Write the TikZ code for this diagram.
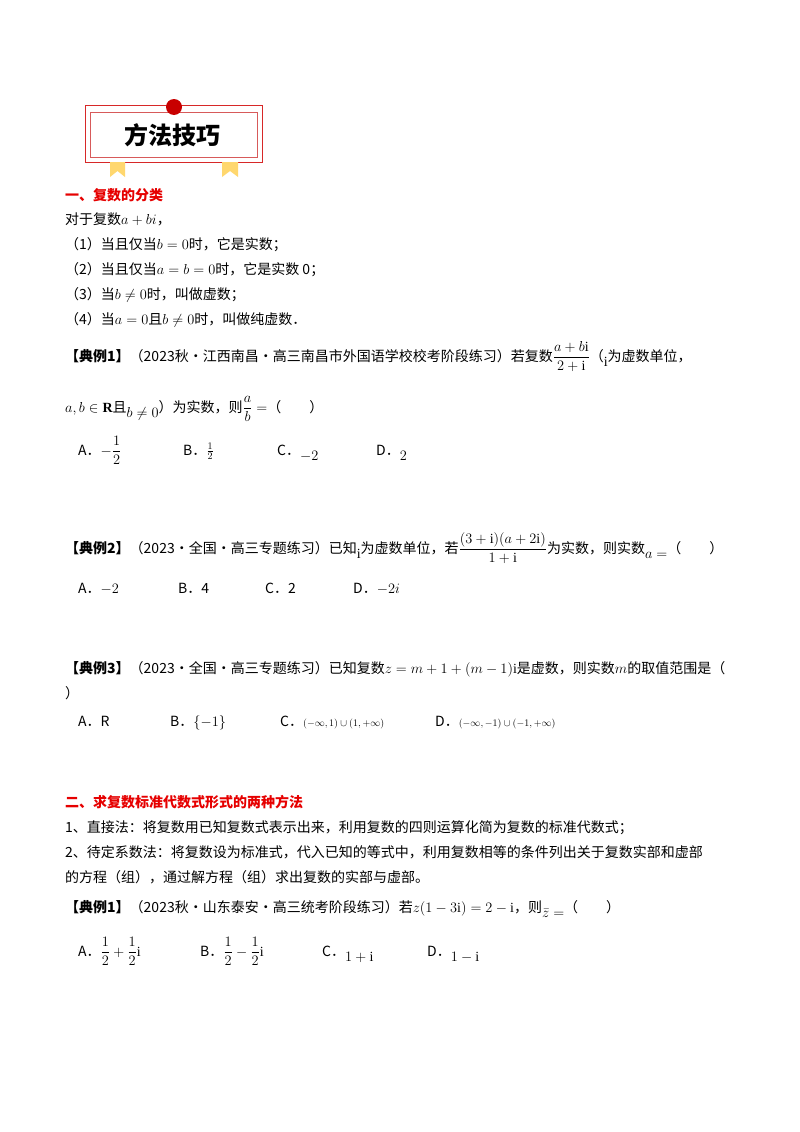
\documentclass[tikz,border=0pt]{standalone}
\usepackage{amsmath}
\usepackage{fontspec}
\setmainfont{Liberation Serif}
\newfontfamily\cjk{Noto Sans CJK SC}
\newcommand\cjkb{\cjk\bfseries}
\newcommand\lowr[1]{\raisebox{-5pt}{$#1$}}
\begin{document}
\begin{tikzpicture}[x=1pt,y=-1pt,
  t/.style={anchor=base west,inner sep=0,font=\fontsize{14}{16}\selectfont\cjk},
  hd/.style={t,font=\fontsize{14}{16}\selectfont\cjkb,text={rgb,255:red,230;green,0;blue,0}},
  opt/.style={t}]
\useasboundingbox[fill=white] (0,0) rectangle (800,1132);
% header
\draw[draw={rgb,255:red,215;green,40;blue,40},line width=1] (85,105) rectangle (262,162);
\draw[draw={rgb,255:red,215;green,90;blue,90},line width=0.8] (90,112) rectangle (257,157);
\fill[fill={rgb,255:red,255;green,215;blue,110}] (110,162)--(125,162)--(125,177)--(117.5,171)--(110,177)--cycle;
\fill[fill={rgb,255:red,255;green,215;blue,110}] (222,162)--(238,162)--(238,177)--(230,171)--(222,177)--cycle;
\fill[fill={rgb,255:red,200;green,0;blue,0}] (174,107) circle (8);
\node[font=\fontsize{24}{26}\selectfont\cjkb] (title) at (172,135) {方法技巧};
% section 1
\node[hd] (h1) at (65,200) {一、复数的分类};
\node[t] (l1) at (65,224) {对于复数$a+bi$，};
\node[t] (l2) at (65,249) {（1）当且仅当$b=0$时，它是实数；};
\node[t] (l3) at (65,274) {（2）当且仅当$a=b=0$时，它是实数 0；};
\node[t] (l4) at (65,299) {（3）当$b\neq0$时，叫做虚数；};
\node[t] (l5) at (65,324) {（4）当$a=0$且$b\neq0$时，叫做纯虚数．};
% ex1
\node[t] (e1) at (65,361) {{\cjkb【典例1】}（2023秋·江西南昌·高三南昌市外国语学校校考阶段练习）若复数$\dfrac{a+b\mathrm{i}}{2+\mathrm{i}}$（\lowr{\mathrm{i}}为虚数单位，};
\node[t] (e1b) at (65,412) {$a,b\in\mathbf{R}$且\lowr{b\neq0}）为实数，则$\dfrac{a}{b}=$（\quad\quad）};
\node[opt] (e1A) at (78,455) {A．$-\dfrac12$};
\node[opt] (e1B) at (183,455) {B．$\frac12$};
\node[opt] (e1C) at (277,455) {C．\lowr{-2}};
\node[opt] (e1D) at (376,455) {D．\lowr{2}};
% ex2
\node[t] (e2) at (65,553) {{\cjkb【典例2】}（2023·全国·高三专题练习）已知\lowr{\mathrm{i}}为虚数单位，若$\dfrac{(3+\mathrm{i})(a+2\mathrm{i})}{1+\mathrm{i}}$为实数，则实数\lowr{a=}（\quad\quad）};
\node[opt] (e2A) at (78,593) {A．$-2$};
\node[opt] (e2B) at (178,593) {B．4};
\node[opt] (e2C) at (265,593) {C．2};
\node[opt] (e2D) at (353,593) {D．$-2i$};
% ex3
\node[t] (e3) at (65,673) {{\cjkb【典例3】}（2023·全国·高三专题练习）已知复数$z=m+1+(m-1)\mathrm{i}$是虚数，则实数$m$的取值范围是（};
\node[t] (e3b) at (65,698) {）};
\node[opt] (e3A) at (78,726) {A．R};
\node[opt] (e3B) at (170,726) {B．$\{-1\}$};
\node[opt] (e3C) at (280,726) {C．{\fontsize{10}{12}\selectfont$(-\infty,1)\cup(1,+\infty)$}};
\node[opt] (e3D) at (435,726) {D．{\fontsize{10}{12}\selectfont$(-\infty,-1)\cup(-1,+\infty)$}};
% section 2
\node[hd] (h2) at (65,807) {二、求复数标准代数式形式的两种方法};
\node[t] (m1) at (65,832) {1、直接法：将复数用已知复数式表示出来，利用复数的四则运算化简为复数的标准代数式；};
\node[t] (m2) at (65,857) {2、待定系数法：将复数设为标准式，代入已知的等式中，利用复数相等的条件列出关于复数实部和虚部};
\node[t] (m3) at (65,882) {的方程（组），通过解方程（组）求出复数的实部与虚部。};
\node[t] (f1) at (65,912) {{\cjkb【典例1】}（2023秋·山东泰安·高三统考阶段练习）若$z(1-3\mathrm{i})=2-\mathrm{i}$，则\lowr{\bar z=}（\quad\quad）};
\node[opt] (fA) at (78,956) {A．$\dfrac12+\dfrac12\mathrm{i}$};
\node[opt] (fB) at (200,956) {B．$\dfrac12-\dfrac12\mathrm{i}$};
\node[opt] (fC) at (322,956) {C．\lowr{1+\mathrm{i}}};
\node[opt] (fD) at (427,956) {D．\lowr{1-\mathrm{i}}};
\end{tikzpicture}
\end{document}
